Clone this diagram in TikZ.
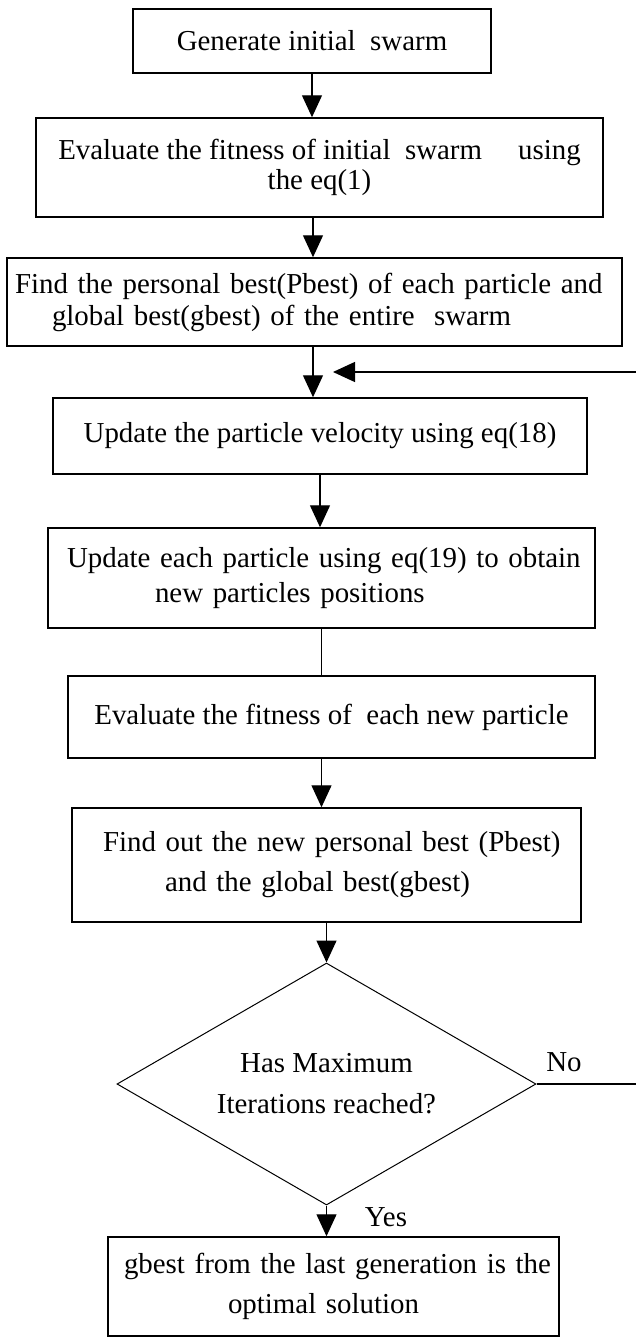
\documentclass[tikz,border=0pt]{standalone}
\usepackage{fontspec}
\setmainfont{Liberation Serif}
\usetikzlibrary{shapes.geometric,arrows.meta}
\begin{document}
\begin{tikzpicture}[x=1pt,y=-1pt,
  txt/.style={font=\fontsize{28.9}{32}\selectfont},
  box/.style={txt, draw, line width=1.5pt, inner xsep=0pt, inner ysep=0pt, align=center},
  lbox/.style={box, align=left},
  dia/.style={txt, draw, diamond, line width=1pt, inner sep=0pt, aspect=1.74, align=center},
  arr/.style={line width=1.3pt, -{Triangle[length=22pt,width=20pt]}},
  plain/.style={line width=1.3pt},
  lbl/.style={txt, inner sep=0pt}]
\useasboundingbox[fill=white] (0,0) rectangle (636,1338);

\node[box, minimum width=358pt, minimum height=64pt] (b1) at (312,41) {Generate initial\ \ swarm};
\node[box, minimum width=567pt, minimum height=99pt] (b2) at (319.5,167.5)
  {Evaluate the fitness of initial\ \ swarm\ \ \ \ \ using\\[-2pt]the eq(1)};
\node[lbox, text width=599pt, inner xsep=8pt, minimum width=615pt, minimum height=88pt] (b3) at (314.5,302)
  {\mbox{Find the personal best(Pbest) of each particle and}\\\hspace*{37pt}\mbox{global best(gbest) of the entire\ \ swarm}};
\node[box, minimum width=534pt, minimum height=76pt] (b4) at (320,436) {Update the particle velocity using eq(18)};
\node[lbox, text width=509pt, inner xsep=19pt, minimum width=547pt, minimum height=100pt] (b5) at (321.5,578)
  {\mbox{Update each particle using eq(19) to obtain}\\[3pt]\hspace*{88pt}\mbox{new particles positions}};
\node[box, minimum width=527pt, minimum height=82pt] (b6) at (331.5,717) {Evaluate the fitness of\ \ each new particle};
\node[lbox, text width=447pt, inner xsep=31pt, minimum width=509pt, minimum height=114pt] (b7) at (326.5,865)
  {\mbox{Find out the new personal best (Pbest)}\\[8pt]\hspace*{62pt}\mbox{and the global best(gbest)}};
\node[dia, minimum width=419pt, minimum height=242pt] (d) at (326.5,1084)
  {Has Maximum\\[9pt]Iterations reached?};
\node[lbox, text width=419pt, inner xsep=16pt, minimum width=451pt, minimum height=99pt] (b8) at (333.5,1286.5)
  {\mbox{gbest from the last generation is the}\\[8pt]\hspace*{104pt}\mbox{optimal solution}};

\coordinate (c1) at (313,0);
\coordinate (rx) at (637.5,372);
\coordinate (tip) at (333,372);

\draw[arr] (b1.south) -- (b1.south |- b2.north);
\draw[arr] (b2.south -| c1) -- (b3.north -| c1);
\draw[arr] (b3.south -| c1) -- (b4.north -| c1);
\draw[arr] (b4.south) -- (b4.south |- b5.north);
\draw[plain] (b5.south) -- (b5.south |- b6.north);
\draw[arr] (b6.south -| b5.south) -- (b7.north -| b5.south);
\draw[arr] (b7.south) -- (d.north);
\draw[arr] (d.south) -- (d.south |- b8.north);
\draw[arr] (d.east) -- (d.east -| rx) -- (rx) -- (tip);

\node[lbl] (no) at (564,1062) {No};
\node[lbl] (yes) at (386,1217) {Yes};
\end{tikzpicture}
\end{document}
